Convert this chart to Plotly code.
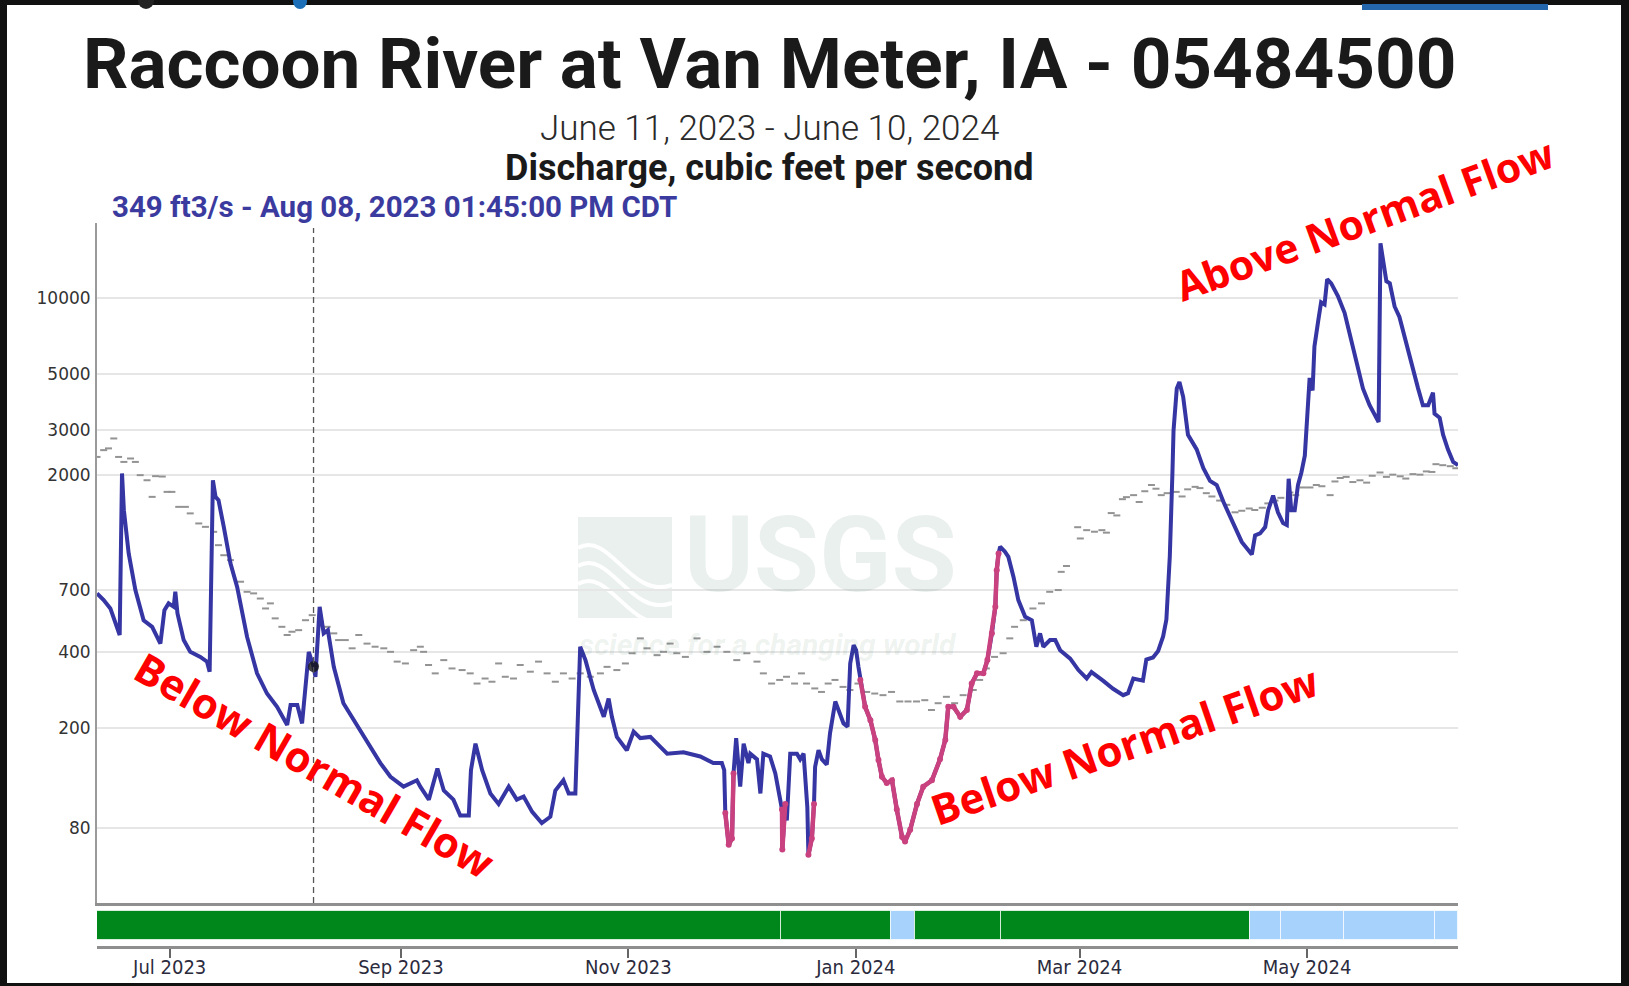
import plotly.graph_objects as go
from datetime import datetime

# ---------------- data ----------------
flow_time = [
    "2023-06-11 12:00", "2023-06-13 07:00", "2023-06-15 02:00", "2023-06-16 10:00", "2023-06-17 14:00",
    "2023-06-18 05:00", "2023-06-18 17:00", "2023-06-20 00:00", "2023-06-21 19:00", "2023-06-24 00:00",
    "2023-06-26 07:00", "2023-06-28 12:00", "2023-06-29 14:00", "2023-06-30 17:00", "2023-07-02 02:00",
    "2023-07-02 12:00", "2023-07-03 02:00", "2023-07-04 18:00", "2023-07-06 12:00", "2023-07-09 05:00",
    "2023-07-11 00:00", "2023-07-11 17:00", "2023-07-12 14:00", "2023-07-13 07:00", "2023-07-14 02:00",
    "2023-07-15 12:00", "2023-07-17 07:00", "2023-07-19 02:00", "2023-07-21 18:00", "2023-07-24 10:00",
    "2023-07-27 02:00", "2023-07-29 19:00", "2023-08-01 12:00", "2023-08-02 10:00", "2023-08-04 05:00",
    "2023-08-05 12:00", "2023-08-06 10:00", "2023-08-07 07:00", "2023-08-08 13:45", "2023-08-09 02:00",
    "2023-08-10 05:00", "2023-08-11 07:00", "2023-08-12 10:00", "2023-08-14 00:00", "2023-08-16 14:00",
    "2023-08-20 05:00", "2023-08-22 22:00", "2023-08-26 12:00", "2023-08-29 05:00", "2023-09-01 17:00",
    "2023-09-05 07:00", "2023-09-06 05:00", "2023-09-08 12:00", "2023-09-10 19:00", "2023-09-12 12:00",
    "2023-09-15 02:00", "2023-09-16 22:00", "2023-09-19 05:00", "2023-09-19 19:00", "2023-09-21 00:00",
    "2023-09-22 19:00", "2023-09-25 00:00", "2023-09-27 05:00", "2023-09-29 22:00", "2023-10-02 02:00",
    "2023-10-03 22:00", "2023-10-06 05:00", "2023-10-08 19:00", "2023-10-11 02:00", "2023-10-12 10:00",
    "2023-10-14 14:00", "2023-10-16 00:00", "2023-10-17 19:00", "2023-10-19 02:00", "2023-10-20 12:00",
    "2023-10-22 17:00", "2023-10-25 10:00", "2023-10-26 17:00", "2023-10-27 14:00", "2023-10-28 22:00",
    "2023-10-31 14:00", "2023-11-02 10:00", "2023-11-04 05:00", "2023-11-06 22:00", "2023-11-09 14:00",
    "2023-11-11 10:00", "2023-11-15 19:00", "2023-11-20 07:00", "2023-11-23 19:00", "2023-11-26 02:00",
    "2023-11-26 17:00", "2023-11-27 00:00", "2023-11-27 22:00", "2023-11-28 19:00", "2023-11-29 05:00",
    "2023-11-29 22:00", "2023-12-01 00:00", "2023-12-01 22:00", "2023-12-03 05:00", "2023-12-03 17:00",
    "2023-12-05 12:00", "2023-12-06 10:00", "2023-12-07 05:00", "2023-12-09 00:00", "2023-12-10 10:00",
    "2023-12-11 07:00", "2023-12-12 05:00", "2023-12-12 07:00", "2023-12-13 02:00", "2023-12-13 12:00",
    "2023-12-14 10:00", "2023-12-16 05:00", "2023-12-17 02:00", "2023-12-18 00:00", "2023-12-18 10:00",
    "2023-12-19 00:00", "2023-12-19 07:00", "2023-12-20 05:00", "2023-12-20 19:00", "2023-12-21 02:00",
    "2023-12-22 00:00", "2023-12-22 22:00", "2023-12-24 05:00", "2023-12-25 02:00", "2023-12-26 12:00",
    "2023-12-27 14:00", "2023-12-28 17:00", "2023-12-29 19:00", "2023-12-30 12:00", "2023-12-31 10:00",
    "2024-01-01 02:00", "2024-01-01 17:00", "2024-01-02 05:00", "2024-01-03 12:00", "2024-01-04 22:00",
    "2024-01-06 05:00", "2024-01-07 02:00", "2024-01-08 00:00", "2024-01-09 07:00", "2024-01-10 17:00",
    "2024-01-12 00:00", "2024-01-13 10:00", "2024-01-14 05:00", "2024-01-15 14:00", "2024-01-17 10:00",
    "2024-01-19 02:00", "2024-01-21 10:00", "2024-01-23 14:00", "2024-01-25 00:00", "2024-01-25 19:00",
    "2024-01-27 05:00", "2024-01-29 00:00", "2024-01-30 19:00", "2024-02-01 02:00", "2024-02-02 12:00",
    "2024-02-04 05:00", "2024-02-05 07:00", "2024-02-06 12:00", "2024-02-07 10:00", "2024-02-07 19:00",
    "2024-02-08 07:00", "2024-02-08 17:00", "2024-02-10 00:00", "2024-02-10 22:00", "2024-02-12 07:00",
    "2024-02-13 14:00", "2024-02-15 10:00", "2024-02-17 05:00", "2024-02-18 10:00", "2024-02-19 10:00",
    "2024-02-20 07:00", "2024-02-22 02:00", "2024-02-23 12:00", "2024-02-24 19:00", "2024-02-27 12:00",
    "2024-02-29 17:00", "2024-03-02 22:00", "2024-03-04 05:00", "2024-03-07 07:00", "2024-03-10 00:00",
    "2024-03-12 17:00", "2024-03-14 00:00", "2024-03-15 10:00", "2024-03-18 00:00", "2024-03-18 22:00",
    "2024-03-20 17:00", "2024-03-22 02:00", "2024-03-23 10:00", "2024-03-24 07:00", "2024-03-25 05:00",
    "2024-03-25 22:00", "2024-03-26 05:00", "2024-03-27 02:00", "2024-03-27 19:00", "2024-03-28 19:00",
    "2024-03-30 02:00", "2024-04-01 10:00", "2024-04-03 05:00", "2024-04-05 00:00", "2024-04-06 19:00",
    "2024-04-08 14:00", "2024-04-11 07:00", "2024-04-13 12:00", "2024-04-16 05:00", "2024-04-17 02:00",
    "2024-04-18 10:00", "2024-04-19 19:00", "2024-04-20 14:00", "2024-04-21 00:00", "2024-04-21 22:00",
    "2024-04-23 05:00", "2024-04-24 14:00", "2024-04-25 14:00", "2024-04-26 02:00", "2024-04-26 19:00",
    "2024-04-27 17:00", "2024-04-28 14:00", "2024-04-29 12:00", "2024-04-30 10:00", "2024-05-01 07:00",
    "2024-05-01 17:00", "2024-05-02 12:00", "2024-05-03 00:00", "2024-05-04 00:00", "2024-05-04 19:00",
    "2024-05-05 17:00", "2024-05-06 10:00", "2024-05-07 12:00", "2024-05-09 07:00", "2024-05-11 02:00",
    "2024-05-12 10:00", "2024-05-14 05:00", "2024-05-16 00:00", "2024-05-17 19:00", "2024-05-19 14:00",
    "2024-05-20 05:00", "2024-05-20 17:00", "2024-05-21 10:00", "2024-05-22 07:00", "2024-05-23 05:00",
    "2024-05-24 12:00", "2024-05-25 19:00", "2024-05-27 14:00", "2024-05-29 10:00", "2024-05-30 19:00",
    "2024-06-01 02:00", "2024-06-02 12:00", "2024-06-03 19:00", "2024-06-04 05:00", "2024-06-05 14:00",
    "2024-06-06 12:00", "2024-06-07 19:00", "2024-06-09 05:00", "2024-06-10 12:00",
]
flow_cfs = [
    679, 639, 592, 517, 465,
    2022, 1448, 977, 700, 532,
    501, 430, 583, 620, 601,
    689, 566, 444, 399, 381,
    365, 333, 1901, 1634, 1585,
    1244, 892, 720, 457, 328,
    273, 242, 205, 246, 246,
    208, 290, 399, 349, 318,
    601, 472, 486, 348, 250,
    205, 179, 145, 128, 117,
    124, 117, 104, 138, 113,
    104, 90, 90, 136, 173,
    136, 110, 100, 117, 104,
    107, 93, 84, 89, 113,
    124, 110, 110, 418, 370,
    282, 221, 261, 221, 184,
    163, 193, 182, 184, 168,
    158, 160, 154, 145, 145,
    136, 92, 69, 73, 132,
    182, 117, 173, 145, 158,
    150, 110, 158, 154, 132,
    110, 95, 66, 100, 86,
    158, 158, 150, 158, 132,
    97, 63, 73, 100, 140,
    163, 150, 143, 190, 254,
    228, 208, 202, 359, 424,
    405, 348, 309, 242, 214,
    179, 149, 128, 121, 124,
    95, 74, 71, 79, 100,
    117, 124, 150, 179, 242,
    242, 221, 235, 299, 328,
    328, 370, 472, 601, 839,
    977, 1038, 992, 946, 789,
    639, 549, 532, 418, 472,
    418, 444, 444, 405, 375,
    338, 313, 332, 307, 285,
    269, 274, 313, 307, 372,
    379, 402, 459, 535, 950,
    2040, 2989, 4385, 4643, 4061,
    2876, 2517, 2120, 1890, 1819,
    1562, 1288, 1085, 968, 1150,
    1172, 1241, 1446, 1502, 1654,
    1419, 1288, 1265, 1927, 1446,
    1446, 1819, 2040, 2377, 3622,
    4822, 4300, 6424, 8085, 9598,
    9419, 11843, 11400, 10163, 8725,
    7210, 5512, 4385, 3763, 3356,
    3228, 16400, 14350, 11617, 11400,
    9237, 8396, 6677, 5107, 4385,
    3763, 3763, 4217, 3485, 3356,
    2876, 2517, 2244, 2180,
]
# periods with estimated (ice-affected) values, drawn in pink
est_start = ["2023-11-26 20:00", "2023-12-11 10:00", "2023-12-19 03:00", "2024-01-01 20:00"]
est_end = ["2023-11-29 06:00", "2023-12-13 04:00", "2023-12-20 21:00", "2024-02-08 08:00"]

median_time = [
    "2023-06-11 12:00", "2023-06-13 07:00", "2023-06-14 14:00", "2023-06-16 00:00", "2023-06-17 07:00",
    "2023-06-18 17:00", "2023-06-20 12:00", "2023-06-21 19:00", "2023-06-23 02:00", "2023-06-24 22:00",
    "2023-06-26 07:00", "2023-06-27 05:00", "2023-06-29 00:00", "2023-06-30 07:00", "2023-07-01 14:00",
    "2023-07-03 10:00", "2023-07-05 05:00", "2023-07-06 12:00", "2023-07-08 19:00", "2023-07-10 14:00",
    "2023-07-12 19:00", "2023-07-14 02:00", "2023-07-15 12:00", "2023-07-17 07:00", "2023-07-20 00:00",
    "2023-07-21 18:00", "2023-07-23 12:00", "2023-07-25 07:00", "2023-07-26 17:00", "2023-07-28 00:00",
    "2023-07-29 07:00", "2023-07-31 02:00", "2023-08-01 12:00", "2023-08-02 19:00", "2023-08-04 14:00",
    "2023-08-06 10:00", "2023-08-08 05:00", "2023-08-10 10:00", "2023-08-12 05:00", "2023-08-14 00:00",
    "2023-08-15 07:00", "2023-08-17 02:00", "2023-08-18 22:00", "2023-08-20 17:00", "2023-08-22 22:00",
    "2023-08-25 02:00", "2023-08-27 10:00", "2023-08-29 05:00", "2023-08-31 00:00", "2023-09-02 05:00",
    "2023-09-04 10:00", "2023-09-06 05:00", "2023-09-07 02:00", "2023-09-08 10:00", "2023-09-10 05:00",
    "2023-09-12 12:00", "2023-09-14 17:00", "2023-09-17 10:00", "2023-09-19 14:00", "2023-09-21 10:00",
    "2023-09-23 14:00", "2023-09-25 10:00", "2023-09-27 05:00", "2023-09-29 00:00", "2023-10-01 05:00",
    "2023-10-03 00:00", "2023-10-05 17:00", "2023-10-07 22:00", "2023-10-10 05:00", "2023-10-12 10:00",
    "2023-10-14 14:00", "2023-10-16 22:00", "2023-10-19 02:00", "2023-10-21 19:00", "2023-10-24 12:00",
    "2023-10-26 07:00", "2023-10-28 22:00", "2023-10-31 05:00", "2023-11-02 00:00", "2023-11-04 05:00",
    "2023-11-06 00:00", "2023-11-08 17:00", "2023-11-10 10:00", "2023-11-12 05:00", "2023-11-14 00:00",
    "2023-11-16 07:00", "2023-11-19 10:00", "2023-11-22 02:00", "2023-11-24 19:00", "2023-11-27 10:00",
    "2023-11-30 02:00", "2023-12-02 19:00", "2023-12-05 12:00", "2023-12-07 05:00", "2023-12-09 10:00",
    "2023-12-11 14:00", "2023-12-13 10:00", "2023-12-15 14:00", "2023-12-17 10:00", "2023-12-18 19:00",
    "2023-12-21 00:00", "2023-12-22 19:00", "2023-12-24 14:00", "2023-12-26 10:00", "2023-12-28 14:00",
    "2023-12-30 10:00", "2024-01-01 14:00", "2024-01-03 22:00", "2024-01-06 02:00", "2024-01-08 07:00",
    "2024-01-10 14:00", "2024-01-12 19:00", "2024-01-15 00:00", "2024-01-17 07:00", "2024-01-19 12:00",
    "2024-01-21 07:00", "2024-01-23 02:00", "2024-01-25 07:00", "2024-01-27 12:00", "2024-01-29 19:00",
    "2024-02-01 12:00", "2024-02-03 05:00", "2024-02-05 00:00", "2024-02-07 05:00", "2024-02-09 12:00",
    "2024-02-11 07:00", "2024-02-12 14:00", "2024-02-14 22:00", "2024-02-17 12:00", "2024-02-19 19:00",
    "2024-02-22 00:00", "2024-02-24 07:00", "2024-02-25 02:00", "2024-02-26 12:00", "2024-02-29 12:00",
    "2024-03-01 05:00", "2024-03-02 22:00", "2024-03-05 00:00", "2024-03-07 00:00", "2024-03-08 05:00",
    "2024-03-09 12:00", "2024-03-11 00:00", "2024-03-12 12:00", "2024-03-13 14:00", "2024-03-15 12:00",
    "2024-03-17 00:00", "2024-03-18 12:00", "2024-03-20 07:00", "2024-03-21 12:00", "2024-03-22 22:00",
    "2024-03-24 12:00", "2024-03-26 22:00", "2024-03-28 12:00", "2024-03-30 00:00", "2024-04-01 00:00",
    "2024-04-02 07:00", "2024-04-04 00:00", "2024-04-05 12:00", "2024-04-07 14:00", "2024-04-09 12:00",
    "2024-04-11 17:00", "2024-04-13 12:00", "2024-04-15 12:00", "2024-04-17 00:00", "2024-04-19 00:00",
    "2024-04-20 12:00", "2024-04-22 10:00", "2024-04-24 00:00", "2024-04-26 10:00", "2024-04-28 00:00",
    "2024-04-30 00:00", "2024-05-01 19:00", "2024-05-03 12:00", "2024-05-05 00:00", "2024-05-07 05:00",
    "2024-05-08 12:00", "2024-05-09 22:00", "2024-05-11 12:00", "2024-05-13 07:00", "2024-05-15 05:00",
    "2024-05-17 00:00", "2024-05-18 12:00", "2024-05-20 14:00", "2024-05-22 07:00", "2024-05-24 00:00",
    "2024-05-26 00:00", "2024-05-27 12:00", "2024-05-29 10:00", "2024-05-31 07:00", "2024-06-02 00:00",
    "2024-06-03 12:00", "2024-06-04 14:00", "2024-06-06 10:00", "2024-06-08 10:00", "2024-06-09 22:00",
]
median_cfs = [
    2350, 2500, 2540, 2780, 2350,
    2246, 2317, 2246, 1991, 1901,
    1634, 1973, 1966, 1710, 1710,
    1492, 1492, 1406, 1283, 1244,
    1189, 1053, 961, 919, 755,
    689, 679, 648, 592, 620,
    541, 501, 465, 479, 486,
    532, 557, 525, 501, 472,
    444, 444, 412, 465, 430,
    418, 412, 399, 365, 359,
    405, 418, 399, 354, 328,
    370, 343, 338, 328, 299,
    313, 304, 359, 318, 313,
    354, 333, 365, 328, 304,
    328, 313, 328, 318, 328,
    348, 338, 359, 394, 451,
    412, 387, 399, 430, 394,
    381, 451, 399, 418, 399,
    370, 394, 365, 328, 299,
    309, 318, 299, 328, 299,
    286, 277, 299, 309, 290,
    282, 299, 277, 273, 269,
    277, 254, 254, 254, 257,
    235, 250, 265, 250, 269,
    282, 309, 343, 381, 394,
    451, 501, 532, 592, 620,
    689, 700, 826, 871, 1240,
    1119, 1207, 1190, 1207, 1180,
    1410, 1380, 1600, 1630, 1660,
    1560, 1720, 1820, 1760, 1660,
    1690, 1710, 1640, 1750, 1790,
    1770, 1690, 1640, 1580, 1520,
    1420, 1440, 1470, 1450, 1480,
    1540, 1580, 1620, 1700, 1660,
    1780, 1780, 1820, 1800, 1660,
    1880, 1940, 1960, 1870, 1900,
    1860, 1980, 2040, 1960, 2000,
    1970, 1930, 2010, 2000, 2060,
    2050, 2200, 2180, 2160, 2120,
]

# data-approval strip below the chart
status_start = ["2023-06-11 12:00", "2023-12-11 20:00", "2024-01-10 10:00", "2024-01-16 20:00",
                "2024-02-09 00:00", "2024-04-15 20:00", "2024-04-24 00:00", "2024-05-10 20:00",
                "2024-06-04 08:00"]
status_end = ["2023-12-11 20:00", "2024-01-10 10:00", "2024-01-16 20:00", "2024-02-09 00:00",
              "2024-04-15 20:00", "2024-04-24 00:00", "2024-05-10 20:00", "2024-06-04 08:00",
              "2024-06-10 12:00"]
status_kind = ["Approved", "Approved", "Provisional", "Approved", "Approved",
               "Provisional", "Provisional", "Provisional", "Provisional"]

hover_time = "2023-08-08 13:45"
hover_cfs = 349
ytick_vals = [80, 200, 400, 700, 2000, 3000, 5000, 10000]
x_range = ["2023-06-11 12:00", "2024-06-10 12:00"]

# ---------------- layout helpers ----------------
W, H = 1629, 986
ML, MR, MT, MB = 97, 171, 223, 40
PW, PH = W - ML - MR, H - MT - MB


def px_x(px):
    return (px - ML) / PW


def px_y(py):
    return (H - MB - py) / PH


def parse(t):
    return datetime.strptime(t, "%Y-%m-%d %H:%M")


BLUE = "#3535a3"
PINK = "#c9417f"
GREEN = "#00871c"
LBLUE = "#a6d2fb"

# pink (estimated) segments
est_periods = [(parse(a), parse(b)) for a, b in zip(est_start, est_end)]
pink_x, pink_y = [], []
prev_in = False
for t, v in zip(flow_time, flow_cfs):
    d = parse(t)
    inside = any(a <= d <= b for a, b in est_periods)
    if inside:
        pink_x.append(t)
        pink_y.append(v)
    elif prev_in:
        pink_x.append(None)
        pink_y.append(None)
    prev_in = inside

fig = go.Figure()

# median daily statistic (grey dashes)
fig.add_trace(go.Scatter(
    x=median_time, y=median_cfs, mode="markers",
    marker=dict(symbol="line-ew", size=5, line=dict(color="#939393", width=2)),
    hoverinfo="skip", xaxis="x", yaxis="y"))

# discharge
fig.add_trace(go.Scatter(
    x=flow_time, y=flow_cfs, mode="lines",
    line=dict(color=BLUE, width=4), xaxis="x", yaxis="y"))

fig.add_trace(go.Scatter(
    x=pink_x, y=pink_y, mode="lines+markers",
    line=dict(color=PINK, width=4.5), marker=dict(color=PINK, size=6),
    connectgaps=False, xaxis="x", yaxis="y"))

# hovered point
fig.add_trace(go.Scatter(
    x=[hover_time], y=[hover_cfs], mode="markers",
    marker=dict(color="rgba(20,20,20,0.8)", size=11), xaxis="x", yaxis="y"))

# approval strip (one bar per period)
durs = [(parse(e) - parse(s)).total_seconds() * 1000 for s, e in zip(status_start, status_end)]
fig.add_trace(go.Bar(
    y=[0.5] * len(status_start), x=durs, base=status_start, orientation="h", width=1,
    marker=dict(color=[GREEN if k == "Approved" else LBLUE for k in status_kind],
                line=dict(color="rgba(255,255,255,0.7)", width=1)),
    xaxis="x2", yaxis="y2", hoverinfo="skip"))

month_ticks = ["2023-07-01", "2023-09-01", "2023-11-01", "2024-01-01", "2024-03-01", "2024-05-01"]
month_labels = [parse(m + " 00:00").strftime("%b %Y") for m in month_ticks]

fig.update_layout(
    width=W, height=H, autosize=False,
    margin=dict(l=ML, r=MR, t=MT, b=MB, pad=0, autoexpand=False),
    paper_bgcolor="white", plot_bgcolor="white",
    showlegend=False, bargap=0, barmode="overlay",
    xaxis=dict(type="date", range=x_range, domain=[0, 1], anchor="y", automargin=False,
               showgrid=False, zeroline=False, showticklabels=False, ticks="",
               showline=True, linecolor="#8f8f8f", linewidth=3),
    yaxis=dict(type="log", domain=[0.0595, 1], anchor="x", automargin=False,
               range=[1.6086, 4.2954],
               tickvals=ytick_vals, ticktext=[str(v) for v in ytick_vals],
               tickfont=dict(family="DejaVu Sans", size=17, color="#333333"),
               showgrid=True, gridcolor="#e6e6e6", gridwidth=2,
               zeroline=False, showline=True, linecolor="#9a9a9a", linewidth=2,
               ticks="", ticklabelstandoff=1),
    xaxis2=dict(type="date", matches="x", range=x_range, domain=[0, 1], anchor="y2",
                automargin=False, showgrid=False, zeroline=False,
                tickvals=month_ticks, ticktext=month_labels,
                tickfont=dict(family="Liberation Sans Narrow, Arial Narrow, DejaVu Sans Condensed, sans-serif",
                              size=20, color="#2b2b3d"),
                ticks="outside", ticklen=9, tickwidth=1.5, tickcolor="#666666",
                ticklabelstandoff=-8,
                showline=True, linecolor="#8f8f8f", linewidth=3),
    yaxis2=dict(domain=[0, 0.0567], anchor="x2", range=[-0.207, 1.207], automargin=False,
                showgrid=False, zeroline=False, showticklabels=False, ticks="",
                fixedrange=True),
)

shapes = []
# USGS watermark block with waves
WM = "rgba(0,85,45,0.085)"
shapes.append(dict(type="rect", xref="paper", yref="paper", layer="below",
                   x0=px_x(578), x1=px_x(672), y0=px_y(618), y1=px_y(517),
                   fillcolor=WM, line=dict(width=0)))
for off in (0, 18, 36):
    pts = [(578, 548 + off), (610, 530 + off), (630, 600 + off), (672, 585 + off)]
    path = "M {} {} C {} {} {} {} {} {}".format(*[v for p in pts for v in (px_x(p[0]), px_y(p[1]))])
    shapes.append(dict(type="path", path=path, xref="paper", yref="paper", layer="below",
                       line=dict(color="white", width=4)))

# crosshair at hovered point
shapes.append(dict(type="line", xref="x", yref="paper", x0=hover_time, x1=hover_time,
                   y0=0.0595, y1=px_y(228), line=dict(color="#555555", width=1.3, dash="6px,4px")))

# screenshot frame + cropped UI remnants
frame = "#111111"
shapes += [
    dict(type="rect", xref="paper", yref="paper", x0=px_x(-2), x1=px_x(7), y0=px_y(990), y1=px_y(-4),
         fillcolor=frame, line=dict(width=0), layer="above"),
    dict(type="rect", xref="paper", yref="paper", x0=px_x(-2), x1=px_x(1631), y0=px_y(5), y1=px_y(-4),
         fillcolor=frame, line=dict(width=0), layer="above"),
    dict(type="rect", xref="paper", yref="paper", x0=px_x(1621), x1=px_x(1631), y0=px_y(990), y1=px_y(-4),
         fillcolor=frame, line=dict(width=0), layer="above"),
    dict(type="rect", xref="paper", yref="paper", x0=px_x(-2), x1=px_x(1631), y0=px_y(990), y1=px_y(983),
         fillcolor=frame, line=dict(width=0), layer="above"),
    dict(type="rect", xref="paper", yref="paper", x0=px_x(1362), x1=px_x(1548), y0=px_y(10), y1=px_y(4),
         fillcolor="#2467ad", line=dict(width=0), layer="above"),
    dict(type="circle", xref="paper", yref="paper", x0=px_x(138), x1=px_x(154), y0=px_y(9), y1=px_y(-8),
         fillcolor="#222222", line=dict(width=0), layer="above"),
    dict(type="circle", xref="paper", yref="paper", x0=px_x(293), x1=px_x(307), y0=px_y(9), y1=px_y(-6),
         fillcolor="#1d6fb8", line=dict(width=0), layer="above"),
]
fig.update_layout(shapes=shapes)

hover_dt = parse(hover_time)
hover_label = "{} ft3/s - {}".format(hover_cfs, hover_dt.strftime("%b %d, %Y %I:%M:%S %p") + " CDT")


def note(text, px, py, font, xanchor="center", angle=0):
    return dict(text=text, x=px_x(px), y=px_y(py), xref="paper", yref="paper",
                showarrow=False, xanchor=xanchor, yanchor="middle", textangle=angle, font=font)


ann = [
    note("USGS", 820, 555, dict(family="Roboto", size=106, color=WM, weight="bold")),
    note("<i>science for a changing world</i>", 768, 644,
         dict(family="Roboto", size=30, color=WM, weight="bold")),
    note("Raccoon River at Van Meter, IA - 05484500", 770, 64,
         dict(family="Roboto", size=71, color="#1a1a1a", weight="bold")),
    note("June 11, 2023 - June 10, 2024", 769, 128,
         dict(family="Roboto", size=35, color="#2a2a2a", weight=300)),
    note("Discharge, cubic feet per second", 769, 168,
         dict(family="Roboto", size=36, color="#1a1a1a", weight="bold")),
    note(hover_label, 110, 207, dict(family="Roboto", size=29.5, color="#3b3b9f", weight="bold"),
         xanchor="left"),
]
RED = dict(family="Open Sans", size=42, color="#ff0000", weight="bold")
ann += [
    note("Below Normal Flow", 315, 764, RED, angle=30),
    note("Below Normal Flow", 1124, 744, RED, angle=-19),
    note("Above Normal Flow", 1364, 219, dict(RED, size=41), angle=-20),
]
fig.update_layout(annotations=ann)

post = ("document.documentElement.style.overflow='hidden';"
        "document.body.style.margin='0';document.body.style.overflow='hidden';")
fig.write_html("out.html", config={"displayModeBar": False}, post_script=post)
